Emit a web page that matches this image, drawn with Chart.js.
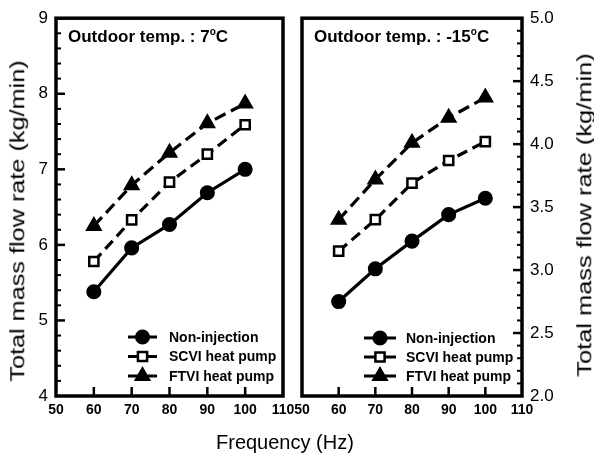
<!DOCTYPE html>
<html>
<head>
<meta charset="utf-8">
<script src="https://cdn.jsdelivr.net/npm/chart.js@4.4.1/dist/chart.umd.min.js"></script>
<style>
  html, body { margin: 0; padding: 0; background: #fff; }
  #wrap { position: relative; width: 594px; height: 457px; overflow: hidden; }
  #wrap canvas { position: absolute; left: 0; top: 0; }
  .ttl {
    position: absolute; white-space: nowrap; color: #000;
    font: 20px "Liberation Sans", Arial, sans-serif; line-height: 1;
  }
</style>
</head>
<body>
<div id="wrap">
  <canvas id="c-left" width="594" height="457"></canvas>
  <canvas id="c-right" width="594" height="457"></canvas>
  <div class="ttl" id="yt-left">Total mass flow rate (kg/min)</div>
  <div class="ttl" id="yt-right">Total mass flow rate (kg/min)</div>
  <div class="ttl" id="xt">Frequency (Hz)</div>
</div>
<script>
/* ── Data ───────────────────────────────────────────────────── */
const freq       = [60, 70, 80, 90, 100];
const seriesName = ['Non-injection', 'SCVI heat pump', 'FTVI heat pump'];

// outdoor 7 °C (left axis, kg/min)
const nonInj7  = [5.38, 5.96, 6.27, 6.69, 7.00];
const scvi7    = [5.78, 6.33, 6.83, 7.20, 7.59];
const ftvi7    = [6.25, 6.79, 7.22, 7.61, 7.87];

// outdoor -15 °C (right axis, kg/min)
const nonInj15 = [2.75, 3.01, 3.23, 3.44, 3.57];
const scvi15   = [3.15, 3.40, 3.69, 3.87, 4.02];
const ftvi15   = [3.40, 3.72, 4.01, 4.21, 4.37];

const xTicks      = [50, 60, 70, 80, 90, 100, 110];
const yTicksLeft  = [4, 5, 6, 7, 8, 9];
const yTicksRight = [2.0, 2.5, 3.0, 3.5, 4.0, 4.5, 5.0];
const panelTemps  = ['7', '-15'];

const FONT = '"Liberation Sans", Arial, sans-serif';

/* ── Series styling ─────────────────────────────────────────── */
const STYLES = [
  { pointStyle: 'circle',   radius: 6.3, bg: '#000', dash: [] },
  { pointStyle: 'rect',     radius: 6.5, bg: '#fff', dash: [11, 6] },
  { pointStyle: 'triangle', radius: 7.5, bg: '#000', dash: [12, 6] }
];

function makeDatasets(series) {
  return series.map((vals, i) => ({
    label: seriesName[i],
    data: freq.map((f, k) => ({ x: f, y: vals[k] })),
    borderColor: '#000',
    borderWidth: 3.2,
    borderDash: STYLES[i].dash,
    pointStyle: STYLES[i].pointStyle,
    pointRadius: STYLES[i].radius,
    pointBackgroundColor: STYLES[i].bg,
    pointBorderColor: '#000',
    pointBorderWidth: 2.5,
    tension: 0,
    fill: false
  }));
}

/* ── Frame, inward ticks, panel title, legend ───────────────── */
const panelPlugin = {
  id: 'panel',
  afterDraw(chart, args, opts) {
    const ctx = chart.ctx;
    const a   = chart.chartArea;
    const xs  = chart.scales.x;
    const ys  = chart.scales.y;
    ctx.save();
    ctx.strokeStyle = '#000';

    // x ticks (bottom, pointing up)
    ctx.lineWidth = 2.5;
    xs.ticks.forEach(t => {
      if (t.value <= xs.min || t.value >= xs.max) return;
      const px = xs.getPixelForValue(t.value);
      ctx.beginPath(); ctx.moveTo(px, a.bottom); ctx.lineTo(px, a.bottom - 9); ctx.stroke();
    });

    // y ticks (major + minor) on the axis side, pointing inward
    const edge = opts.side === 'left' ? a.left : a.right;
    const dir  = opts.side === 'left' ? 1 : -1;
    const n = Math.round((ys.max - ys.min) / opts.minor);
    for (let k = 1; k < n; k++) {
      const v = ys.min + k * opts.minor;
      const major = Math.abs(v / opts.major - Math.round(v / opts.major)) < 1e-6;
      const py = ys.getPixelForValue(v);
      ctx.lineWidth = major ? 2.5 : 2;
      ctx.beginPath(); ctx.moveTo(edge, py); ctx.lineTo(edge + dir * (major ? 9 : 5), py); ctx.stroke();
    }

    // box
    ctx.lineWidth = 3.5;
    ctx.strokeRect(a.left, a.top, a.right - a.left, a.bottom - a.top);

    // panel title with superscript degree
    ctx.fillStyle = '#000';
    ctx.textBaseline = 'alphabetic';
    ctx.font = 'bold 17px ' + FONT;
    let tx = a.left + 12;
    const ty = a.top + 24;
    const main = 'Outdoor temp. : ' + opts.temp;
    ctx.fillText(main, tx, ty);
    tx += ctx.measureText(main).width;
    ctx.font = 'bold 10px ' + FONT;
    ctx.fillText('o', tx, ty - 7);
    tx += ctx.measureText('o').width;
    ctx.font = 'bold 17px ' + FONT;
    ctx.fillText('C', tx, ty);

    // legend
    const L = opts.legend;
    chart.data.datasets.forEach((ds, i) => {
      const y = L.y0 + i * L.dy;
      ctx.lineWidth = 3;
      ctx.setLineDash([]);
      ctx.beginPath(); ctx.moveTo(L.x1, y); ctx.lineTo(L.x2, y); ctx.stroke();
      ctx.fillStyle = ds.pointBackgroundColor;
      ctx.lineWidth = ds.pointBorderWidth;
      Chart.helpers.drawPoint(ctx, {
        pointStyle: ds.pointStyle, radius: ds.pointRadius, rotation: 0, borderWidth: ds.pointBorderWidth
      }, (L.x1 + L.x2) / 2, y);
      ctx.fillStyle = '#000';
      ctx.font = 'bold 14px ' + FONT;
      ctx.textBaseline = 'middle';
      ctx.fillText(ds.label, L.tx, y + 1);
    });
    ctx.restore();
  }
};

/* ── Chart factory ──────────────────────────────────────────── */
function buildPanel(id, series, yMin, yMax, yStep, yTicks, side, padding, yWidth, pluginOpts) {
  return new Chart(document.getElementById(id), {
    type: 'line',
    data: { datasets: makeDatasets(series) },
    plugins: [panelPlugin],
    options: {
      responsive: false,
      animation: false,
      layout: { padding },
      plugins: { legend: { display: false }, tooltip: { enabled: false }, panel: pluginOpts },
      scales: {
        x: {
          type: 'linear',
          min: xTicks[0], max: xTicks[xTicks.length - 1],
          afterBuildTicks: s => { s.ticks = xTicks.map(v => ({ value: v })); },
          afterFit: s => { s.height = 61; },
          grid: { display: false, drawTicks: false },
          border: { display: false },
          ticks: { color: '#000', font: { family: FONT, size: 14, weight: 'bold' }, padding: 6, maxRotation: 0, autoSkip: false }
        },
        y: {
          type: 'linear',
          position: side,
          min: yMin, max: yMax,
          afterBuildTicks: s => { s.ticks = yTicks.map(v => ({ value: v })); },
          afterFit: s => { s.width = yWidth; },
          grid: { display: false, drawTicks: false },
          border: { display: false },
          ticks: {
            color: '#000',
            font: { family: FONT, size: 17 },
            padding: 8,
            callback: v => yStep < 1 ? Number(v).toFixed(1) : String(v)
          }
        }
      }
    }
  });
}

buildPanel('c-left', [nonInj7, scvi7, ftvi7], 4, 9, 1, yTicksLeft, 'left',
  { left: 0, top: 16, right: 311, bottom: 0 }, 56,
  { side: 'left', major: 1, minor: 0.2, temp: panelTemps[0],
    legend: { x1: 128, x2: 157, tx: 169, y0: 337, dy: 19.5 } });

buildPanel('c-right', [nonInj15, scvi15, ftvi15], 2, 5, 0.5, yTicksRight, 'right',
  { left: 302, top: 16, right: 0, bottom: 0 }, 72,
  { side: 'right', major: 0.5, minor: 0.1, temp: panelTemps[1],
    legend: { x1: 364, x2: 396, tx: 406, y0: 338, dy: 19 } });

/* ── Axis titles (stretched along their length like the source) ── */
function placeTitle(id, cx, cy, len, rotate) {
  const el = document.getElementById(id);
  const k  = len ? len / el.offsetWidth : 1;
  el.style.left = (cx - el.offsetWidth / 2) + 'px';
  el.style.top  = (cy - el.offsetHeight / 2) + 'px';
  el.style.transform = (rotate ? 'rotate(-90deg) ' : '') + 'scaleX(' + k + ')';
}
placeTitle('yt-left', 17, 221, 322, true);
placeTitle('yt-right', 584, 215, 324, true);
placeTitle('xt', 285, 442, 0, false);
</script>
</body>
</html>
